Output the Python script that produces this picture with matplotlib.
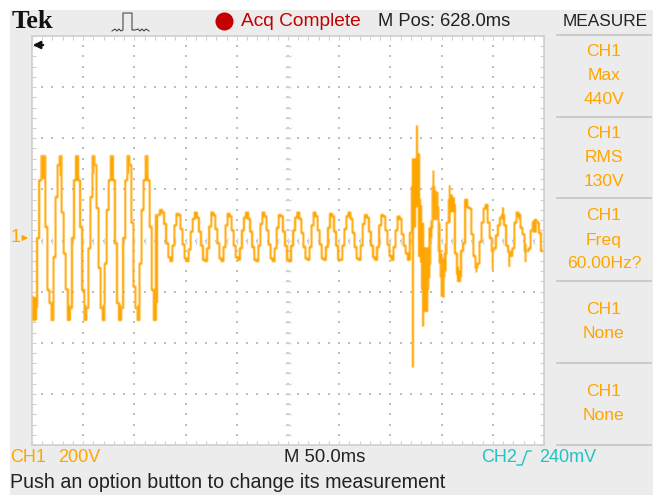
import numpy as np
import matplotlib
matplotlib.use('Agg')
import matplotlib.pyplot as plt
from matplotlib.patches import Rectangle

# scope record, volts per sample, one sample every 2 ms
trace_v = [
    -230, -320, -270, 0, 226, 320, 320, 43, -203, -254, -320, -74, 160, 285, 320, 100, -60, -200, -320, -273,
    0, 226, 320, 226, 43, -203, -320, -273, -40, 160, 320, 285, 117, -117, -273, -320, -100, 110, 226, 320,
    226, -20, -254, -320, -273, 0, 226, 320, 285, 60, -190, -273, -320, -100, 110, 226, 320, 226, 43, -203,
    -320, 90,
    90, 110, 100, 55, -20, -75, -90, -30, 50,
    95, 90, 35, -25, -80, -90, -45, 25, 75,
    100, 80, 25, -30, -85, -90, -40, 45,
    100, 90, 35, -20, -80, -90, -35, 50,
    95, 85, 30, -30, -75, -85, -40, 30, 80,
    100, 75, 25, -35, -85, -90, -30, 55,
    100, 85, 30, -25, -80, -90, -40, 40,
    90, 85, 25, -30, -85, -90, -30, 30, 80,
    100, 75, 20, -35, -80, -85, -35, 50,
    100, 85, 30, -25, -80, -85, -35, 40,
    95, 85, 25, -30, -85, -85, -30, 35, 85,
    100, 75, 20, -35, -80, -85, -30, 55,
    90, 80, 25, -30, -75, -85, -35, 50,
    90, 85, 30, -25, -70, -85, -35, 30, 85,
    75, 15, -30, -60, -85, 20,
    200, 300, 300, 150, 0, -200, -200, -200, -100, 40, 200, 120, 120, -50, -150, -150, -60, 60, 150, 130,
    130, -60, -140, -150, -50, -20, 150, 120, 115, 15, -70, -115, -100, -15, 60, 115, 130, 60, 0, -50,
    -40, 10, 50, 80, 90, 50, -30, -55, -70, -40, 60, 100, 90, 40, 15, -50, -50, -40, 30, 60,
    70, 60, 20, -50,
]

# samples where the peak detect shows a min/max bar
env_idx = [1, 2, 5, 6, 10, 14, 18, 22, 26, 30, 35, 39, 43, 47, 52, 56, 60, 61,
           186, 187, 188, 189, 190, 191, 192, 193, 194, 195, 196, 197, 198, 199, 200, 201, 202,
           204, 205, 206, 208, 209, 217, 225, 230, 233, 237, 238, 241, 245, 246]
env_lo = [-320, -320, 230, 230, -320, 240, -320, 260, -320, 250, -320, 240, -320, 250, -320, 250, -320, -254,
          -507, 40, 120, -74, -97, -347, -289, -289, -156, 0, 70, 70, 70, -100, -230, -234, -130,
          60, 100, 100, -172, -172, -135, -125, 70, -113, 80, 70, -94, 20, 20]
env_hi = [-230, -230, 320, 320, -254, 320, -260, 320, -260, 320, -260, 320, -260, 320, -260, 320, -260, 90,
          312, 312, 441, 332, 129, 60, -35, -35, 40, 70, 265, 187, 180, 60, -60, -80, -20,
          207, 170, 160, -110, -125, -100, -40, 121, -50, 100, 97, -20, 70, 75]

dt_ms = 2.0
t_ms = np.arange(len(trace_v)) * dt_ms
env_t = np.array(env_idx) * dt_ms

orange = '#ffa500'
W, H = 653, 497


def soften(img, dpi):
    # the screenshot is an upscaled LCD grab, so the trace has soft edges
    k = np.array([0.2, 0.6, 0.2])
    out = img.copy()
    for axis in (0, 1):
        out = (k[0] * np.roll(out, 1, axis) + k[1] * out + k[2] * np.roll(out, -1, axis))
    return out, 0, 0


plt.rcParams['font.family'] = ['Liberation Sans', 'DejaVu Sans']

fig = plt.figure(figsize=(W / 100, H / 100), dpi=100, facecolor='white')

# pixel-space layer for the instrument bezel and the text
bg = fig.add_axes([0, 0, 1, 1])
bg.set_xlim(0, W)
bg.set_ylim(H, 0)
bg.axis('off')
bg.add_patch(Rectangle((10, 10), W - 10, 485, color='#ececec', lw=0))

# graticule
ax = fig.add_axes([32 / W, 1 - 445 / H, 512 / W, 409 / H], facecolor='white')
ax.set_xlim(0, 500)
ax.set_ylim(-808, 789)
minor_x = np.linspace(0, 500, 51)
minor_y = np.linspace(-808, 789, 41)
major_x = minor_x[::5]
major_y = minor_y[::5]
for s in ax.spines.values():
    s.set_color('#cfcfcf')
    s.set_linewidth(1.2)
ax.set_xticks(minor_x)
ax.set_yticks(minor_y)
ax.tick_params(direction='in', length=3, width=0.8, color='#cfcfcf', top=True, right=True,
               labelbottom=False, labelleft=False)

gx, gy = np.meshgrid(major_x[1:-1], minor_y[1:-1])
ax.scatter(gx.ravel(), gy.ravel(), s=3, marker='s', color='#bdbdbd', lw=0, zorder=1)
gx, gy = np.meshgrid(minor_x[1:-1], major_y[1:-1])
ax.scatter(gx.ravel(), gy.ravel(), s=3, marker='s', color='#bdbdbd', lw=0, zorder=1)
ax.plot(minor_x[1:-1], np.full(49, minor_y[20]), ls='', marker='|', ms=4.5, mew=1, color='#d4d4d4', zorder=1)
ax.plot(np.full(39, major_x[5]), minor_y[1:-1], ls='', marker='_', ms=4.5, mew=1, color='#d4d4d4', zorder=1)

# waveform
line, = ax.plot(t_ms, trace_v, drawstyle='steps-mid', color=orange, lw=1.7,
                solid_joinstyle='round', zorder=3)
line.set_snap(False)
line.set_agg_filter(soften)
bars = ax.vlines(env_t, env_lo, env_hi, color=orange, lw=1.7, zorder=3)
bars.set_snap(False)
bars.set_agg_filter(soften)

# top bar
bg.text(12, 21, 'Tek', family='Liberation Serif', weight='bold', fontsize=19, color='#111111', va='center')
bg.plot([112, 115, 117, 119, 121, 123, 123, 132, 132, 135, 138, 140, 142, 144, 146, 149],
        [31, 29, 31, 29, 31, 30, 13, 13, 30, 30, 29, 31, 29, 31, 29, 31],
        color='#333333', lw=0.7)
bg.plot([224], [21], marker='o', ms=13, color='#c40000', mew=0)
bg.text(241, 21, 'Acq Complete', color='#c40000', fontsize=13.8, va='center')
bg.text(378, 21, 'M Pos: 628.0ms', color='#222222', fontsize=13.2, va='center')
bg.text(605, 21, 'MEASURE', color='#222222', fontsize=12.4, va='center', ha='center')

# measurement panel
for y in [35, 117, 198, 281, 363, 445]:
    bg.plot([557, 651], [y, y], color='#c4c4c4', lw=1.2)
menu_x = 604
menu_rows = [(51, 'CH1'), (76, 'Max'), (100, '440V'),
             (133, 'CH1'), (158, 'RMS'), (182, '130V'),
             (215, 'CH1'), (240, 'Freq'), (264, '60.00Hz?'),
             (309, 'CH1'), (334, 'None'),
             (391, 'CH1'), (416, 'None')]
for y, s in menu_rows:
    bg.text(menu_x, y, s, color=orange, fontsize=12.6, ha='center', va='center')

# ground marker
bg.text(11, 238, '1', color=orange, fontsize=13, va='center')
bg.annotate('', xy=(31, 238), xytext=(20, 238), arrowprops=dict(arrowstyle='-|>', color=orange, lw=1, mutation_scale=8))

# status line
bg.text(10, 458, 'CH1', color=orange, fontsize=13, va='center')
bg.text(58, 458, '200V', color=orange, fontsize=13, va='center')
bg.text(284, 458, 'M 50.0ms', color='#222222', fontsize=13.3, va='center')
bg.text(481, 458, 'CH2', color='#20c4c4', fontsize=13, va='center')
bg.plot([517, 522, 527, 531], [465, 465, 451, 451], color='#20c4c4', lw=1)
bg.text(539, 458, '240mV', color='#20c4c4', fontsize=13, va='center')
bg.text(10, 483, 'Push an option button to change its measurement', color='#222222', fontsize=14.1, va='center')

bg.set_zorder(0)
ax.set_zorder(1)
top = fig.add_axes([0, 0, 1, 1], facecolor='none')
top.set_xlim(0, W)
top.set_ylim(H, 0)
top.axis('off')
top.set_zorder(2)
top.annotate('', xy=(30, 45), xytext=(46, 45), arrowprops=dict(arrowstyle='-|>', color='#111111', lw=1.6, mutation_scale=11))

fig.savefig('out.png', dpi=100)
